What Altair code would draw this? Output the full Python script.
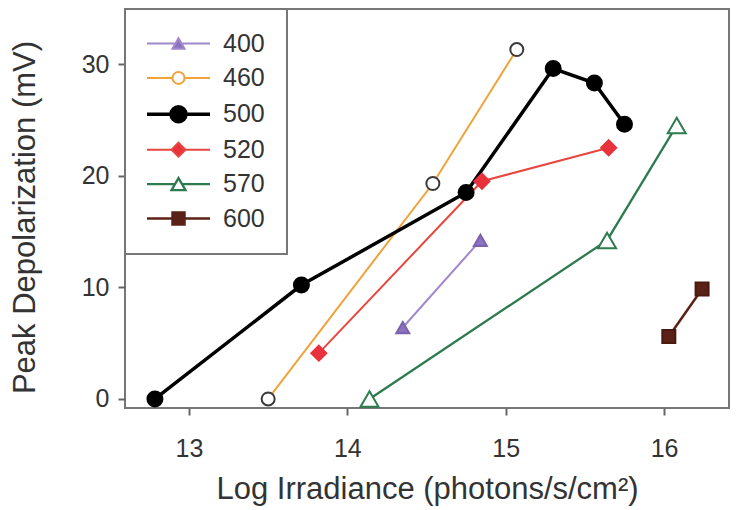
import altair as alt
import pandas as pd

# ---- data ----
series = ["400", "460", "500", "520", "570", "600"]

x_400 = [14.35, 14.84]
y_400 = [6.4, 14.2]
x_460 = [13.50, 14.54, 15.07]
y_460 = [0.0, 19.3, 31.3]
x_500 = [12.785, 13.71, 14.75, 15.30, 15.56, 15.75]
y_500 = [0.0, 10.2, 18.5, 29.6, 28.3, 24.6]
x_520 = [13.82, 14.85, 15.65]
y_520 = [4.1, 19.5, 22.5]
x_570 = [14.14, 15.64, 16.08]
y_570 = [0.0, 14.2, 24.5]
x_600 = [16.03, 16.24]
y_600 = [5.6, 9.85]

x_ticks = [13, 14, 15, 16]
y_ticks = [0, 10, 20, 30]

# ---- styles ----
line_colors = ["#a088cc", "#f2a23a", "#000000", "#e8473f", "#2d7b4e", "#5a2216"]
marker_fill = ["#8b73bf", "#ffffff", "#000000", "#e8323c", "#ffffff", "#5a2216"]
marker_stroke = ["#7a62ae", "#3a3a3a", "#000000", "#e8323c", "#2d7b4e", "#4a1a10"]
line_width = [2, 2, 3.5, 2, 2.3, 2.5]
marker_shape = ["triangle-up", "circle", "circle", "diamond", "triangle-up", "square"]
marker_size = [169, 169, 225, 225, 324, 169]
legend_paths = [
    "M-31.5,0H-3M3,0H31.5M0,-5.2L-6,5.2L6,5.2Z",
    "M-31.5,0H-6M6,0H31.5M-6,0A6,6 0 1,0 6,0A6,6 0 1,0 -6,0Z",
    "M-31.5,0H-7.5M7.5,0H31.5M-7.5,0A7.5,7.5 0 1,0 7.5,0A7.5,7.5 0 1,0 -7.5,0Z",
    "M-31.5,0H-7M7,0H31.5M-7,0L0,-7L7,0L0,7Z",
    "M-31.5,0H-3.5M3.5,0H31.5M0,-6L-7,6L7,6Z",
    "M-31.5,0H-6M6,0H31.5M-6,-6H6V6H-6Z",
]

FONT = "Liberation Sans"

xs = [x_400, x_460, x_500, x_520, x_570, x_600]
ys = [y_400, y_460, y_500, y_520, y_570, y_600]
rows = []
for s, xv, yv in zip(series, xs, ys):
    for a, b in zip(xv, yv):
        rows.append({"s": s, "x": a, "y": b})
df = pd.DataFrame(rows)

xscale = alt.Scale(domain=[12.596, 16.41], nice=False, zero=False)
yscale = alt.Scale(domain=[-0.81, 34.93], nice=False, zero=False)

X = alt.X("x:Q", scale=xscale, axis=alt.Axis(
    values=x_ticks, format="d", title="Log Irradiance (photons/s/cm²)",
    labelPadding=21, titlePadding=13))
Y = alt.Y("y:Q", scale=yscale, axis=alt.Axis(
    values=y_ticks, format="d", title="Peak Depolarization (mV)",
    labelPadding=9, titlePadding=40, titleY=208))

base = alt.Chart(df)

lines = base.mark_line().encode(
    x=X, y=Y,
    stroke=alt.Stroke("s:N", scale=alt.Scale(domain=series, range=line_colors), legend=None),
    strokeWidth=alt.StrokeWidth("s:N", scale=alt.Scale(type="ordinal", domain=series, range=line_width), legend=None),
)

points = base.mark_point(opacity=1, strokeWidth=2).encode(
    x=X, y=Y,
    shape=alt.Shape("s:N", scale=alt.Scale(domain=series, range=marker_shape), legend=None),
    fill=alt.Fill("s:N", scale=alt.Scale(domain=series, range=marker_fill), legend=None),
    stroke=alt.Stroke("s:N", scale=alt.Scale(domain=series, range=marker_stroke), legend=None),
    size=alt.Size("s:N", scale=alt.Scale(type="ordinal", domain=series, range=marker_size), legend=None),
)

leg = alt.Legend(
    title=None, orient="top-left", offset=0, padding=22,
    symbolSize=4, symbolOffset=19, labelOffset=32, rowPadding=8.4,
    labelFontSize=25, labelFont=FONT, labelColor="#333333",
    strokeColor="#777777", fillColor="#ffffff",
)

legend_layer = base.mark_point(opacity=1).transform_filter("false").encode(
    x=X, y=Y,
    shape=alt.Shape("s:N", scale=alt.Scale(domain=series, range=legend_paths), legend=leg),
    fill=alt.Fill("s:N", scale=alt.Scale(domain=series, range=marker_fill), legend=leg),
    stroke=alt.Stroke("s:N", scale=alt.Scale(domain=series, range=line_colors), legend=leg),
    strokeWidth=alt.StrokeWidth("s:N", scale=alt.Scale(type="ordinal", domain=series, range=line_width), legend=leg),
)

chart = alt.layer(lines, points, legend_layer).resolve_scale(
    shape="independent", fill="independent", stroke="independent",
    strokeWidth="independent", size="independent",
).properties(
    width=604, height=399,
    autosize=alt.AutoSizeParams(type="none"),
    padding={"left": 117, "top": 1, "right": 3, "bottom": 101},
).configure_view(
    stroke="#777777", strokeWidth=2,
).configure_axis(
    domain=False, grid=False, tickSize=7, tickWidth=2, tickColor="#666666",
    labelFont=FONT, labelFontSize=25, labelColor="#333333",
    titleFont=FONT, titleFontSize=31, titleFontWeight="normal", titleColor="#333333",
).configure_legend(
    strokeWidth=2,
)

chart.save("out.html", embed_options={"renderer": "svg", "actions": False})
